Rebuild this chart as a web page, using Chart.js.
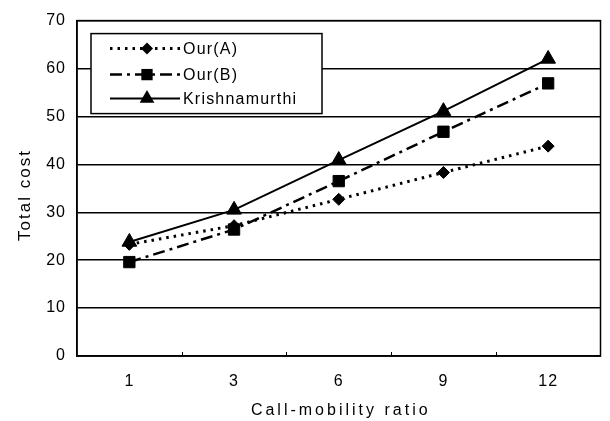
<!DOCTYPE html>
<html>
<head>
<meta charset="utf-8">
<script src="https://cdn.jsdelivr.net/npm/chart.js@4/dist/chart.umd.min.js"></script>
<style>
  html, body { margin: 0; padding: 0; background: #fff; }
  canvas { display: block; }
</style>
</head>
<body>
<canvas id="cost-chart" width="610" height="421"></canvas>
<script>
// Values
const ratios = ['1', '3', '6', '9', '12'];
const ourA = [23.3, 27.2, 32.7, 38.3, 43.8];
const ourB = [19.6, 26.4, 36.5, 46.8, 56.9];
const krishnamurthi = [23.8, 30.5, 40.9, 51.1, 62.0];
const yTicks = [0, 10, 20, 30, 40, 50, 60, 70];

const xTitle = 'Call-mobility ratio';
const yTitle = 'Total cost';
const FONT = "'Liberation Sans', Arial, sans-serif";

Chart.defaults.color = '#000';
Chart.defaults.font.family = FONT;

// draw one legend marker
function drawMarker(ctx, style, x, y, r) {
  ctx.beginPath();
  if (style === 'rectRot') {
    ctx.moveTo(x, y - r); ctx.lineTo(x + r, y); ctx.lineTo(x, y + r); ctx.lineTo(x - r, y);
  } else if (style === 'rect') {
    const s = r * Math.SQRT1_2;
    ctx.rect(x - s, y - s, 2 * s, 2 * s);
  } else {
    ctx.moveTo(x, y - r);
    ctx.lineTo(x + r * 0.866, y + r * 0.5);
    ctx.lineTo(x - r * 0.866, y + r * 0.5);
  }
  ctx.closePath();
  ctx.fill();
}

const spacingPlugin = {
  id: 'spacing',
  beforeDraw(chart) {
    chart.ctx.letterSpacing = '1px';
  }
};

const framePlugin = {
  id: 'frame',
  afterDatasetsDraw(chart) {
    const { ctx, chartArea } = chart;
    const x = chart.scales.x;
    ctx.save();
    ctx.letterSpacing = '0px';
    ctx.strokeStyle = '#000';
    ctx.lineWidth = 1.5;
    ctx.strokeRect(chartArea.left, chartArea.top, chartArea.right - chartArea.left, chartArea.bottom - chartArea.top);
    // small inward ticks between categories
    ctx.lineWidth = 1;
    for (let i = 1; i < ratios.length; i++) {
      const px = Math.round((x.getPixelForTick(i - 1) + x.getPixelForTick(i)) / 2) + 0.5;
      ctx.beginPath();
      ctx.moveTo(px, chartArea.bottom);
      ctx.lineTo(px, chartArea.bottom - 4);
      ctx.stroke();
    }
    ctx.restore();
  }
};

const legendPlugin = {
  id: 'boxLegend',
  afterDraw(chart) {
    const { ctx, chartArea } = chart;
    const left = chartArea.left + 14;
    const top = chartArea.top + 13;
    const w = 231, h = 80;
    ctx.save();
    ctx.fillStyle = '#fff';
    ctx.fillRect(left, top, w, h);
    ctx.strokeStyle = '#000';
    ctx.lineWidth = 1.5;
    ctx.setLineDash([]);
    ctx.strokeRect(left, top, w, h);

    ctx.font = '16px ' + FONT;
    ctx.letterSpacing = '1.2px';
    ctx.textBaseline = 'middle';
    ctx.textAlign = 'left';
    const rowY = [15, 41, 65];
    const markerR = [6, 8, 8.5];
    chart.data.datasets.forEach((ds, i) => {
      const y = top + rowY[i];
      ctx.strokeStyle = '#000';
      ctx.fillStyle = '#000';
      ctx.lineWidth = ds.borderWidth;
      ctx.setLineDash(ds.borderDash || []);
      ctx.beginPath();
      ctx.moveTo(left + 19, y);
      ctx.lineTo(left + 89, y);
      ctx.stroke();
      ctx.setLineDash([]);
      drawMarker(ctx, ds.pointStyle, left + 56, y, markerR[i]);
      ctx.fillText(ds.label, left + 92, y + 1);
    });
    ctx.restore();
  }
};

const titlePlugin = {
  id: 'axisTitles',
  afterDraw(chart) {
    const { ctx, chartArea } = chart;
    ctx.save();
    ctx.fillStyle = '#000';
    ctx.font = '16px ' + FONT;
    ctx.textAlign = 'center';
    ctx.textBaseline = 'middle';
    ctx.letterSpacing = '3px';
    ctx.fillText(xTitle, (chartArea.left + chartArea.right) / 2 + 2, 411);
    ctx.font = '17px ' + FONT;
    ctx.letterSpacing = '2px';
    ctx.translate(25, 195);
    ctx.rotate(-Math.PI / 2);
    ctx.fillText(yTitle, 0, 0);
    ctx.restore();
  }
};

new Chart(document.getElementById('cost-chart').getContext('2d'), {
  type: 'line',
  data: {
    labels: ratios,
    datasets: [
      {
        label: 'Our(A)',
        data: ourA,
        borderColor: '#000',
        backgroundColor: '#000',
        borderWidth: 3,
        borderDash: [2.5, 5],
        pointStyle: 'rectRot',
        pointRadius: 6,
        pointBorderWidth: 1,
        tension: 0
      },
      {
        label: 'Our(B)',
        data: ourB,
        borderColor: '#000',
        backgroundColor: '#000',
        borderWidth: 2.5,
        borderDash: [12, 5, 3, 5],
        pointStyle: 'rect',
        pointRadius: 8,
        pointBorderWidth: 1,
        tension: 0
      },
      {
        label: 'Krishnamurthi',
        data: krishnamurthi,
        borderColor: '#000',
        backgroundColor: '#000',
        borderWidth: 2,
        pointStyle: 'triangle',
        pointRadius: 8.5,
        pointBorderWidth: 1,
        tension: 0
      }
    ]
  },
  options: {
    responsive: false,
    animation: false,
    layout: {
      padding: { left: 0, right: 9, top: 14, bottom: 0 }
    },
    scales: {
      x: {
        offset: true,
        grid: { display: false, drawTicks: false },
        border: { display: true, color: '#000', width: 1.5 },
        ticks: {
          padding: 16,
          font: { size: 16 },
          maxRotation: 0
        },
        afterFit(scale) { scale.height = 65; }
      },
      y: {
        min: 0,
        max: 70,
        afterBuildTicks(scale) {
          scale.ticks = yTicks.map(v => ({ value: v }));
        },
        grid: { color: '#000', lineWidth: 1.5, drawTicks: false },
        border: { display: true, color: '#000', width: 1.5 },
        ticks: {
          padding: 11,
          font: { size: 16 }
        },
        afterFit(scale) { scale.width = 77; }
      }
    },
    plugins: {
      legend: { display: false },
      tooltip: { enabled: false }
    }
  },
  plugins: [spacingPlugin, framePlugin, legendPlugin, titlePlugin]
});
</script>
</body>
</html>
